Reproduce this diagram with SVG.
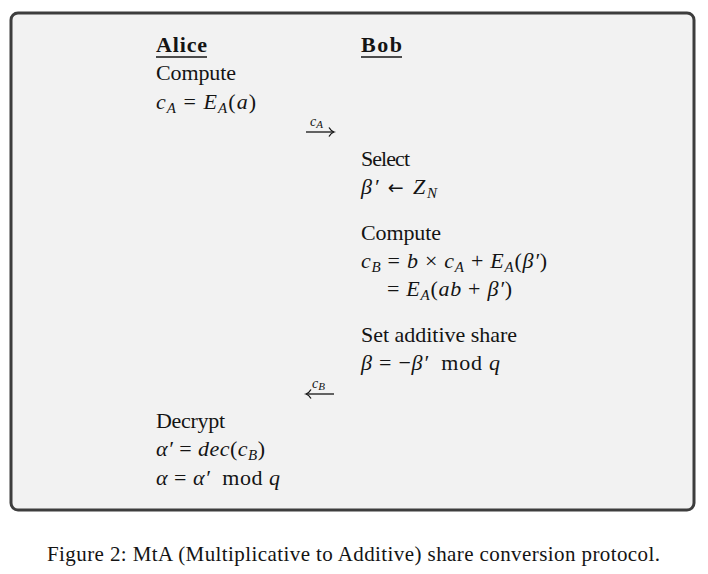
<svg xmlns="http://www.w3.org/2000/svg" width="708" height="574" viewBox="0 0 708 574">
<defs>
<style>
text{font-family:"Liberation Serif","Times New Roman",serif;fill:#141414;white-space:pre}
.t{font-size:22px}
.b{font-size:22px;font-weight:bold}
.m{font-size:22px;font-style:italic}
.up{font-style:normal}
.arr{font-style:normal;font-family:"DejaVu Sans",sans-serif;font-size:19px}
.sub{font-size:15px;font-style:italic}
.lab{font-size:14px;font-style:italic}
.ln{stroke:#141414;stroke-width:1.3;fill:none}
.cap{font-size:21px}
</style>
</defs>
<rect x="11" y="13" width="683" height="497" rx="7" fill="#f2f2f2" stroke="#3d3d3d" stroke-width="3"/>
<g id="alice-header">
<text class="b" x="156" y="52" textLength="51" lengthAdjust="spacing">Alice</text>
<line class="ln" x1="156" y1="57" x2="207" y2="57"/>
</g>
<g id="bob-header">
<text class="b" x="361" y="52" textLength="41" lengthAdjust="spacing">Bob</text>
<line class="ln" x1="361" y1="57" x2="402" y2="57"/>
</g>
<g id="alice-compute">
<text class="t" x="156" y="80" textLength="80" lengthAdjust="spacing">Compute</text>
<text class="m" x="156" y="109" textLength="100" lengthAdjust="spacing">c<tspan class="sub" dy="4">A</tspan><tspan class="up" dy="-4"> = </tspan>E<tspan class="sub" dy="4">A</tspan><tspan class="up" dy="-4">(</tspan>a<tspan class="up">)</tspan></text>
</g>
<g id="bob-select">
<text class="t" x="361" y="166" textLength="49" lengthAdjust="spacing">Select</text>
<text class="m" x="361" y="194" textLength="76" lengthAdjust="spacing">β′<tspan class="up"> </tspan><tspan class="arr">←</tspan><tspan class="up"> </tspan>Z<tspan class="sub" dy="4">N</tspan></text>
</g>
<g id="bob-compute">
<text class="t" x="361" y="240" textLength="80" lengthAdjust="spacing">Compute</text>
<text class="m" x="361" y="268" textLength="186" lengthAdjust="spacing">c<tspan class="sub" dy="4">B</tspan><tspan class="up" dy="-4"> = </tspan>b<tspan class="up"> × </tspan>c<tspan class="sub" dy="4">A</tspan><tspan class="up" dy="-4"> + </tspan>E<tspan class="sub" dy="4">A</tspan><tspan class="up" dy="-4">(</tspan>β′<tspan class="up">)</tspan></text>
<text class="m" x="387" y="296" textLength="125" lengthAdjust="spacing"><tspan class="up">= </tspan>E<tspan class="sub" dy="4">A</tspan><tspan class="up" dy="-4">(</tspan>ab<tspan class="up"> + </tspan>β′<tspan class="up">)</tspan></text>
</g>
<g id="bob-share">
<text class="t" x="361" y="342" textLength="156" lengthAdjust="spacing">Set additive share</text>
<text class="m" x="361" y="370" textLength="139" lengthAdjust="spacing">β<tspan class="up"> = −</tspan>β′<tspan class="up">  mod </tspan>q</text>
</g>
<g id="alice-decrypt">
<text class="t" x="156" y="428" textLength="69" lengthAdjust="spacing">Decrypt</text>
<text class="m" x="156" y="456" textLength="109" lengthAdjust="spacing">α′<tspan class="up"> = </tspan>dec<tspan class="up">(</tspan>c<tspan class="sub" dy="4">B</tspan><tspan class="up" dy="-4">)</tspan></text>
<text class="m" x="156" y="485" textLength="124" lengthAdjust="spacing">α<tspan class="up"> = </tspan>α′<tspan class="up">  mod </tspan>q</text>
</g>
<g id="connectors">
<g id="msg-cA">
<line class="ln" x1="306" y1="132" x2="333.5" y2="132"/>
<path class="ln" d="M329,127.5 Q331,131 334,132 Q331,133 329,136.5"/>
<text class="lab" x="310" y="126">c<tspan font-size="11" dy="2">A</tspan></text>
</g>
<g id="msg-cB">
<line class="ln" x1="306.5" y1="394" x2="334" y2="394"/>
<path class="ln" d="M311,389.5 Q309,393 306,394 Q309,395 311,398.5"/>
<text class="lab" x="312" y="388">c<tspan font-size="11" dy="2">B</tspan></text>
</g>
</g>
<text class="cap" x="47" y="561" textLength="613" lengthAdjust="spacing">Figure 2: MtA (Multiplicative to Additive) share conversion protocol.</text>
</svg>
